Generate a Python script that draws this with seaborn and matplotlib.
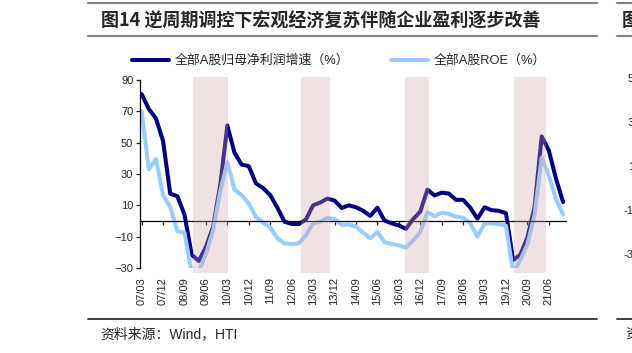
import matplotlib
matplotlib.use("Agg")
import matplotlib.pyplot as plt
from matplotlib.lines import Line2D
import seaborn as sns
import pandas as pd

# quarterly data 2007Q1 - 2021Q4
quarters = [f"{2007 + i // 4}Q{i % 4 + 1}" for i in range(60)]
profit_growth = [81, 71.5, 65.5, 51, 17.5, 15.8, 4, -21.5, -25.5, -16.5,
                 -3.7, 23, 61, 43.5, 36, 35, 24, 21, 16.5, 8.5,
                 -0.5, -1.8, -2, 1, 10, 11.8, 14.3, 13, 8.3, 10,
                 8.8, 6.5, 3.3, 8.5, 0.3, -1.5, -2.8, -5, 1.2, 6,
                 20, 16.3, 18.1, 17.5, 13.5, 13.5, 8.5, 1.5, 8.7, 6.9,
                 6.5, 5, -25, -21.5, -10.5, 9, 54, 45, 27, 12]
roe = [70, 33, 39.5, 16.5, 9, -6.5, -7.5, -33, -32, -21,
       -6, 19, 37.5, 20, 16.5, 11, 2.5, -1, -4, -11,
       -14.4, -14.7, -14.3, -9, -1.5, -0.4, 2, 1.2, -2.5, -2.2,
       -3.5, -7.5, -11, -7, -13.5, -14.7, -15.5, -17, -12.5, -7,
       5.5, 3, 5.3, 4.5, 2.8, 2.2, -1.5, -10, -1.5, -1.5,
       -2, -3, -33, -25, -15, 4, 40.5, 29, 14, 4]
# counter-cyclical policy periods (quarter positions)
band_start = [7.2, 22.3, 36.9, 52.1]
band_end = [12.1, 26.4, 40.2, 56.6]

name_profit = "全部A股归母净利润增速（%）"
name_roe = "全部A股ROE（%）"
colors = {name_profit: "#000080", name_roe: "#99CCFF"}

df = pd.DataFrame({"quarter": quarters, "pos": range(len(quarters)),
                   name_profit: profit_growth, name_roe: roe})
long = df.melt(id_vars=["quarter", "pos"], var_name="series", value_name="value")

sns.set_style("white")
plt.rcParams["font.family"] = ["Liberation Sans", "Noto Sans CJK SC"]

fig = plt.figure(figsize=(6.32, 3.53), dpi=100)
ax = fig.add_axes([139.5 / 632, 1 - 268 / 353, (566 - 139.5) / 632, 188 / 353])

sns.lineplot(data=long, x="pos", y="value", hue="series", palette=colors,
             linewidth=2.9, legend=False, ax=ax, zorder=2)

for s, e in zip(band_start, band_end):
    ax.axvspan(s, e, ymin=-0.027, ymax=1.016, color="#D4A7A7", alpha=0.33,
               lw=0, zorder=3, clip_on=False)

ax.set_xlim(-0.3, 59.4)
ax.set_ylim(-30, 90)
ax.set_yticks([-30, -10, 10, 30, 50, 70, 90])
ticks = list(range(0, 58, 3))
ax.set_xticks(ticks)
ax.set_xticklabels([f"{int(quarters[k][2:4]):02d}/{(int(quarters[k][-1])) * 3:02d}" for k in ticks])
ax.set_xlabel("")
ax.set_ylabel("")

for side in ["top", "right"]:
    ax.spines[side].set_visible(False)
ax.spines["bottom"].set_position(("data", 0))
ax.spines["bottom"].set_color("black")
ax.spines["bottom"].set_linewidth(0.9)
ax.spines["left"].set_color("black")
ax.spines["left"].set_linewidth(0.9)
ax.tick_params(axis="x", direction="out", length=3, width=0.9, pad=37.5,
               labelsize=8, labelrotation=90, bottom=True)
ax.tick_params(axis="y", direction="out", length=3, width=0.9, pad=1.5,
               labelsize=8, left=True)

handles = [Line2D([], [], color=colors[name_profit], lw=2.9),
           Line2D([], [], color=colors[name_roe], lw=2.9)]
fig.legend(handles, [name_profit, name_roe], loc="center",
           bbox_to_anchor=(0.536, 1 - 61 / 353), ncol=2, frameon=False,
           fontsize=9.3, handlelength=2.9, handletextpad=0.4, columnspacing=3.2)

# report framing
def hline(x0, x1, y, color, lw):
    fig.add_artist(Line2D([x0 / 632, x1 / 632], [1 - y / 353] * 2,
                          transform=fig.transFigure, color=color, lw=lw))

hline(88, 597, 3, "#808080", 1.5)
hline(88, 597, 36, "#808080", 1.5)
hline(88, 597, 319, "#303030", 1.3)
hline(617, 640, 3, "#808080", 1.5)
hline(617, 640, 36, "#808080", 1.5)
hline(617, 640, 319, "#303030", 1.3)

fig.text(101 / 632, 1 - 21 / 353, "图14 逆周期调控下宏观经济复苏伴随企业盈利逐步改善",
         fontsize=13, fontweight="bold", va="center", ha="left",
         family=["Noto Sans CJK SC"])
fig.text(622 / 632, 1 - 21 / 353, "图", fontsize=13, fontweight="bold",
         va="center", ha="left", family=["Noto Sans CJK SC"])
fig.text(100 / 632, 1 - 334 / 353, "资料来源：Wind，HTI", fontsize=10,
         va="center", ha="left")
fig.text(625 / 632, 1 - 334 / 353, "资", fontsize=10, va="center", ha="left")

for lab, y in zip(["50", "30", "10", "-10", "-30"], [79, 123, 167, 211, 255]):
    fig.text(640 / 632, 1 - y / 353, lab, fontsize=8, ha="right", va="center")

fig.savefig("out.png", dpi=100)
